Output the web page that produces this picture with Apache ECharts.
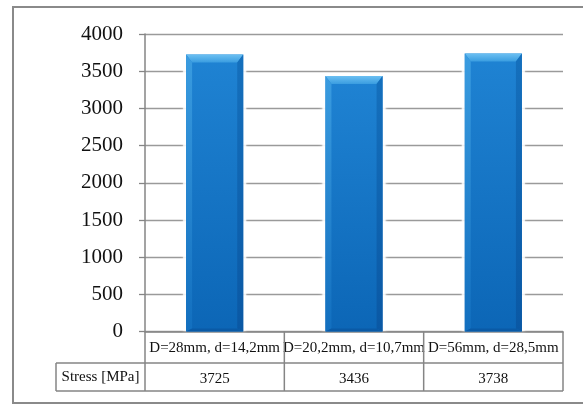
<!DOCTYPE html>
<html>
<head>
<meta charset="utf-8">
<script src="https://cdn.jsdelivr.net/npm/echarts@6/dist/echarts.min.js"></script>
<style>
  html, body { margin: 0; padding: 0; background: #fff; }
  #chart { width: 583px; height: 407px; }
</style>
</head>
<body>
<div id="chart"></div>
<script>
// Specimen geometries and measured stress
const categories = ['D=28mm, d=14,2mm', 'D=20,2mm, d=10,7mm', 'D=56mm, d=28,5mm'];
const stressValues = [3725, 3436, 3738];
const rowLabel = 'Stress [MPa]';
const yTicks = { min: 0, max: 4000, interval: 500 };

const SERIF = 'Liberation Serif';
const LINE = '#858585';

const chart = echarts.init(document.getElementById('chart'), null, { renderer: 'canvas' });

// Bevelled column drawn from the axis scale
function renderBevelBar(params, api) {
  const idx = api.value(0);
  const val = api.value(1);
  const topPt = api.coord([idx, val]);
  const basePt = api.coord([idx, 0]);
  const bw = api.size([1, 0])[0] * 0.41;
  const l = topPt[0] - bw / 2, r = topPt[0] + bw / 2;
  const t = topPt[1], b = basePt[1];
  const bv = 6, bt = 8;
  const lg = (x1, y1, x2, y2, stops) => new echarts.graphic.LinearGradient(x1, y1, x2, y2, stops);
  return {
    type: 'group',
    children: [
      { type: 'rect', shape: { x: l - 3, y: t - 2, width: bw + 6, height: b - t + 1 },
        style: { fill: 'rgba(255,255,255,0.75)', shadowBlur: 3, shadowColor: 'rgba(255,255,255,0.9)' } },
      { type: 'rect', shape: { x: l, y: t, width: bw, height: b - t },
        style: { fill: lg(0, 0, 0, 1, [{ offset: 0, color: '#1f83d3' }, { offset: 1, color: '#0c66b6' }]) } },
      { type: 'polygon', shape: { points: [[l, t], [r, t], [r - bv, t + bt], [l + bv, t + bt]] },
        style: { fill: lg(0, 0, 0, 1, [{ offset: 0, color: '#6cc0f2' }, { offset: 1, color: '#3a9de0' }]) } },
      { type: 'polygon', shape: { points: [[l, t], [l + bv, t + bt], [l + bv, b - 3], [l, b]] },
        style: { fill: lg(0, 0, 0, 1, [{ offset: 0, color: '#3a9ce0' }, { offset: 1, color: '#126fbf' }]) } },
      { type: 'polygon', shape: { points: [[r, t], [r - bv, t + bt], [r - bv, b - 3], [r, b]] },
        style: { fill: lg(0, 0, 0, 1, [{ offset: 0, color: '#1570bd' }, { offset: 1, color: '#0a58a4' }]) } },
      { type: 'polygon', shape: { points: [[l, b], [l + bv, b - 3], [r - bv, b - 3], [r, b]] },
        style: { fill: '#0a5aa6' } }
    ]
  };
}

chart.setOption({
  animation: false,
  textStyle: { fontFamily: SERIF },
  grid: { left: 145, right: 20, top: 34, bottom: 75.4, containLabel: false },
  xAxis: [
    {
      type: 'category', data: categories, position: 'bottom',
      axisLine: { show: true, lineStyle: { color: LINE, width: 1.5 } },
      axisTick: { show: false },
      axisLabel: { color: '#111', fontFamily: SERIF, fontSize: 15, margin: 9, interval: 0 }
    },
    {
      type: 'category', data: stressValues.map(String), position: 'bottom',
      axisLine: { show: false }, axisTick: { show: false },
      axisLabel: { color: '#111', fontFamily: SERIF, fontSize: 15, margin: 40, interval: 0 }
    }
  ],
  yAxis: {
    type: 'value', min: yTicks.min, max: yTicks.max, interval: yTicks.interval,
    axisLine: { show: true, lineStyle: { color: LINE, width: 1.5 } },
    axisTick: { show: true, length: 6, lineStyle: { color: LINE, width: 1.3 } },
    axisLabel: { color: '#111', fontFamily: SERIF, fontSize: 21, margin: 22, formatter: v => String(v) },
    splitLine: { show: true, lineStyle: { color: '#9a9a9a', width: 1.3 } }
  },
  series: [{
    type: 'custom', xAxisIndex: 0, yAxisIndex: 0,
    renderItem: renderBevelBar,
    data: stressValues.map((v, i) => [i, v]),
    z: 3
  }]
});

// Data table under the plot, aligned to the category bands
const c0 = chart.convertToPixel({ xAxisIndex: 0 }, 0);
const c1 = chart.convertToPixel({ xAxisIndex: 0 }, 1);
const band = c1 - c0;
const xLeft = c0 - band / 2;
const xRight = xLeft + band * categories.length;
const y0 = chart.convertToPixel({ yAxisIndex: 0 }, 0);
const row1 = y0 + 31.4, row2 = row1 + 28;
const labelLeft = 56;

const ls = { stroke: LINE, lineWidth: 1.5 };
const g = [];
const hline = (x1, x2, y) => g.push({ type: 'line', shape: { x1, y1: y, x2, y2: y }, style: ls, z: 10 });
const vline = (x, y1, y2) => g.push({ type: 'line', shape: { x1: x, y1, x2: x, y2 }, style: ls, z: 10 });

hline(labelLeft, xRight, row1);
hline(labelLeft, xRight, row2);
vline(labelLeft, row1, row2);
for (let i = 0; i <= categories.length; i++) vline(xLeft + i * band, y0, row2);

// Outer chart-area frame
g.push({ type: 'rect', shape: { x: 13, y: 7, width: 600, height: 396 },
  style: { fill: null, stroke: '#8a8a8a', lineWidth: 2 }, z: 11 });

chart.setOption({
  graphic: g,
  // Row header of the data table
  title: {
    text: rowLabel,
    left: (labelLeft + xLeft) / 2,
    top: (row1 + row2) / 2 - 8,
    textAlign: 'center',
    padding: 0,
    textStyle: { color: '#111', fontFamily: SERIF, fontSize: 15, fontWeight: 'normal', lineHeight: 16 }
  }
});
</script>
</body>
</html>
